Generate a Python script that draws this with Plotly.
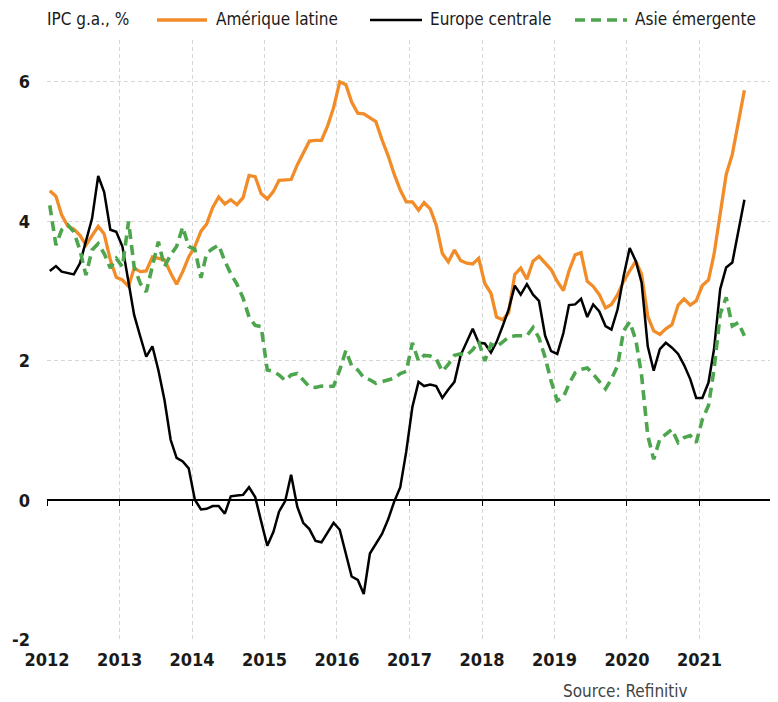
import plotly.graph_objects as go
import pandas as pd

# ---------------- data ----------------
months = pd.date_range("2012-01-01", "2021-08-01", freq="MS") + pd.Timedelta(days=14)

amerique_latine = [
    4.44, 4.36, 4.09, 3.93, 3.89, 3.80, 3.66, 3.80, 3.93, 3.82, 3.45, 3.20,
    3.16, 3.07, 3.33, 3.28, 3.29, 3.49, 3.47, 3.45, 3.26, 3.10, 3.28, 3.49,
    3.64, 3.86, 3.96, 4.20, 4.35, 4.25, 4.31, 4.24, 4.34, 4.66, 4.64, 4.40,
    4.32, 4.43, 4.59, 4.60, 4.60, 4.81, 4.97, 5.15, 5.16, 5.16, 5.37, 5.63,
    6.00, 5.96, 5.71, 5.55, 5.54, 5.48, 5.43, 5.17, 4.94, 4.68, 4.45, 4.28,
    4.28, 4.16, 4.27, 4.18, 3.95, 3.54, 3.42, 3.59, 3.44, 3.40, 3.39, 3.47,
    3.11, 2.97, 2.63, 2.59, 2.69, 3.24, 3.33, 3.17, 3.43, 3.50, 3.40, 3.31,
    3.14, 3.01, 3.29, 3.52, 3.55, 3.14, 3.07, 2.95, 2.76, 2.81, 2.95, 3.14,
    3.29, 3.43, 3.24, 2.64, 2.43, 2.38, 2.46, 2.52, 2.80, 2.89, 2.80, 2.86,
    3.08, 3.16, 3.53, 4.08, 4.67, 4.96, 5.41, 5.88,
]

europe_centrale = [
    3.29, 3.36, 3.28, 3.26, 3.24, 3.40, 3.71, 4.04, 4.65, 4.42, 3.88, 3.85,
    3.64, 3.11, 2.66, 2.35, 2.06, 2.21, 1.87, 1.44, 0.87, 0.61, 0.56, 0.46,
    0.01, -0.13, -0.12, -0.08, -0.08, -0.19, 0.06, 0.07, 0.08, 0.19, 0.05, -0.30,
    -0.65, -0.45, -0.16, -0.01, 0.37, -0.09, -0.32, -0.41, -0.58, -0.60, -0.45, -0.32,
    -0.42, -0.75, -1.09, -1.14, -1.34, -0.76, -0.63, -0.48, -0.27, -0.02, 0.19, 0.70,
    1.34, 1.70, 1.64, 1.66, 1.64, 1.47, 1.59, 1.70, 2.08, 2.26, 2.46, 2.26,
    2.25, 2.12, 2.27, 2.50, 2.74, 3.08, 2.95, 3.10, 2.95, 2.86, 2.36, 2.14,
    2.10, 2.40, 2.80, 2.81, 2.89, 2.63, 2.81, 2.71, 2.50, 2.45, 2.74, 3.21,
    3.62, 3.43, 3.12, 2.21, 1.86, 2.17, 2.26, 2.19, 2.10, 1.94, 1.74, 1.47,
    1.47, 1.69, 2.17, 3.03, 3.34, 3.41, 3.84, 4.31,
]

asie_emergente = [
    4.23, 3.66, 3.88, 3.95, 3.85, 3.59, 3.23, 3.59, 3.68, 3.54, 3.33, 3.47,
    3.35, 4.00, 3.35, 3.11, 2.99, 3.35, 3.71, 3.35, 3.52, 3.64, 3.92, 3.64,
    3.60, 3.19, 3.54, 3.61, 3.66, 3.43, 3.25, 3.10, 2.90, 2.63, 2.51, 2.49,
    1.87, 1.85, 1.80, 1.72, 1.80, 1.82, 1.72, 1.63, 1.62, 1.64, 1.63, 1.64,
    1.87, 2.15, 1.93, 1.87, 1.76, 1.73, 1.68, 1.70, 1.72, 1.75, 1.82, 1.85,
    2.26, 2.00, 2.08, 2.07, 2.03, 1.85, 1.95, 2.08, 2.10, 2.08, 2.16, 2.28,
    2.00, 2.24, 2.20, 2.27, 2.34, 2.36, 2.36, 2.36, 2.48, 2.33, 2.05, 1.71,
    1.43, 1.48, 1.67, 1.83, 1.88, 1.90, 1.81, 1.70, 1.60, 1.74, 1.93, 2.43,
    2.56, 2.30, 1.79, 0.93, 0.59, 0.88, 0.95, 1.02, 0.83, 0.90, 0.93, 0.83,
    1.16, 1.36, 1.88, 2.67, 2.91, 2.50, 2.55, 2.36,
]

series_names = ["Amérique latine", "Europe centrale", "Asie émergente"]
year_ticks = [f"{y}-01-01" for y in range(2012, 2022)]
year_labels = [str(y) for y in range(2012, 2022)]
grid_years = [f"{y}-01-01" for y in range(2012, 2023)]
y_ticks = [-2, 0, 2, 4, 6]
y_labels = ["-2", "0", "2", "4", "6"]
axis_title = "IPC g.a., %"
source_text = "Source: Refinitiv"

# ---------------- style ----------------
FONT = "DejaVu Sans Condensed, Liberation Sans Narrow, Arial Narrow, sans-serif"
ORANGE = "#F28C28"
BLACK = "#000000"
GREEN = "#4DA64D"
GRID = "#d6d6d6"
GRIDDASH = "4px,3px"
TXT = "#1a1a1a"

# page body has an 8px margin: figure is drawn from (8, 8) of the window
OFF = 8
W, H = 770, 694
ML, MR, MT, MB = 39, 6, 32, 62
Y0, Y1 = -2, 6.6
X0, X1 = "2012-01-01", "2022-01-01"

fig = go.Figure()
styles = [
    dict(color=ORANGE, width=3.3),
    dict(color=BLACK, width=2.5),
    dict(color=GREEN, width=3.6, dash="10px,6px"),
]
for name, vals, st in zip(series_names, [amerique_latine, europe_centrale, asie_emergente], styles):
    fig.add_trace(go.Scatter(x=months, y=vals, mode="lines", name=name, line=st,
                             hoverinfo="x+y+name"))

# helper trace so the zero-line axis (x2) is drawn
fig.add_trace(go.Scatter(x=[months[0]], y=[0], xaxis="x2", mode="markers",
                         marker=dict(opacity=0), showlegend=False, hoverinfo="skip"))

TICKFONT = dict(family=FONT, size=18, color=TXT, weight="bold")
fig.update_layout(
    width=W, height=H,
    margin=dict(l=ML, r=MR, t=MT, b=MB),
    paper_bgcolor="white", plot_bgcolor="white",
    showlegend=False,
    font=dict(family=FONT, color=TXT),
    xaxis=dict(
        range=[X0, X1], tickvals=year_ticks, ticktext=year_labels,
        showgrid=False, zeroline=False, showline=False, ticks="",
        tickfont=TICKFONT, ticklabelstandoff=7, automargin=False,
    ),
    xaxis2=dict(
        range=[X0, X1], overlaying="x", anchor="free",
        position=(0 - Y0) / (Y1 - Y0),
        tickvals=grid_years, showticklabels=False,
        showgrid=True, gridcolor=GRID, griddash=GRIDDASH, gridwidth=1,
        showline=True, linecolor=BLACK, linewidth=1.5,
        ticks="outside", ticklen=5, tickcolor=BLACK, tickwidth=1.2,
        zeroline=False, automargin=False,
    ),
    yaxis=dict(
        range=[Y0, Y1], tickvals=y_ticks, ticktext=y_labels,
        showgrid=True, gridcolor=GRID, griddash=GRIDDASH, gridwidth=1,
        zeroline=False, showline=False, ticks="",
        tickfont=TICKFONT, ticklabelstandoff=16, automargin=False,
    ),
)

# ---------------- custom legend (top) ----------------
PW = W - ML - MR
PH = H - MT - MB


def px_x(px):
    return (px - OFF - ML) / PW


def px_y(py):
    return (H - MB - (py - OFF)) / PH


LEG_Y = 19
LEGFONT = dict(family=FONT, size=17, color=TXT)
fig.add_annotation(text=axis_title, xref="paper", yref="paper", x=px_x(45), y=px_y(LEG_Y),
                   xanchor="left", yanchor="middle", showarrow=False, font=LEGFONT)
legend_pos = [(157, 207, 214), (370, 422, 428), (575, 627, 633)]
for name, st, (lx0, lx1, tx) in zip(series_names, styles, legend_pos):
    fig.add_shape(type="line", xref="paper", yref="paper",
                  x0=px_x(lx0), x1=px_x(lx1), y0=px_y(LEG_Y + 1), y1=px_y(LEG_Y + 1),
                  line=dict(color=st["color"], width=st["width"], dash=st.get("dash", "solid")))
    fig.add_annotation(text=name, xref="paper", yref="paper", x=px_x(tx), y=px_y(LEG_Y),
                       xanchor="left", yanchor="middle", showarrow=False, font=LEGFONT)

fig.add_annotation(text=source_text, xref="paper", yref="paper", x=px_x(690), y=px_y(691),
                   xanchor="right", yanchor="middle", showarrow=False,
                   font=dict(family=FONT, size=17, color="#444444"))

fig.write_html("out.html")
